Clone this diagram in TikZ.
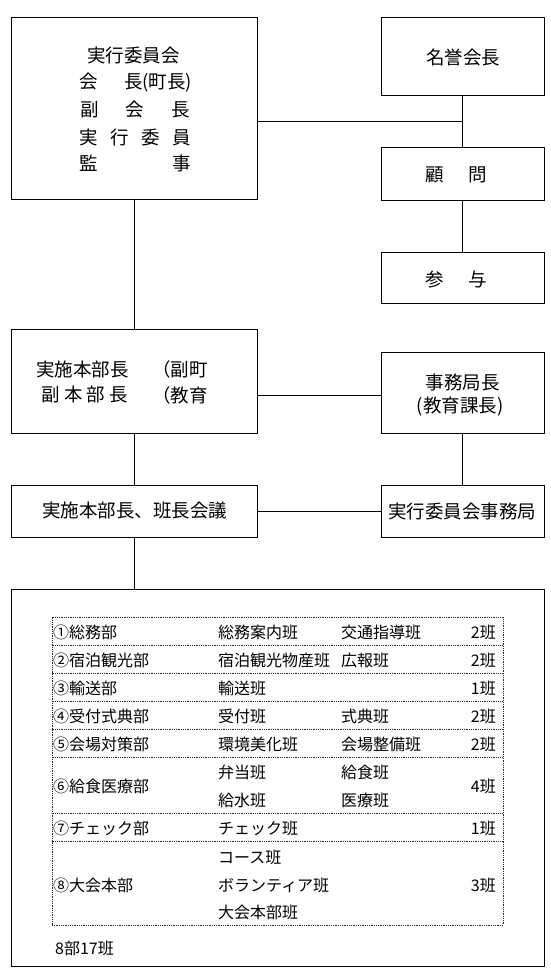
\documentclass[tikz,border=0pt]{standalone}
\usepackage{fontspec}
\setmainfont{Noto Sans CJK JP}
\newcommand\mybigfont{\fontsize{18.5pt}{22pt}\selectfont}
\newcommand\mysmallfont{\fontsize{16pt}{19pt}\selectfont}
\begin{document}
\begin{tikzpicture}[x=1pt,y=-1pt,
  box/.style={draw, line width=0.9pt, inner sep=0pt},
  conn/.style={line width=0.9pt},
  txt/.style={inner sep=0pt, font=\mybigfont},
  cell/.style={inner sep=0pt, font=\mysmallfont, anchor=west},
  cnt/.style={inner sep=0pt, font=\mysmallfont, anchor=east},
  tbl/.style={draw=black!85, line width=0.7pt, dash pattern=on 0.9pt off 0.9pt}]
\useasboundingbox (0,0) rectangle (550,975);
% boxes
\node[box, minimum width=246, minimum height=182] (A) at (134,108) {};
\node[box, minimum width=163, minimum height=78] (meiyo) at (462.5,56) {};
\node[box, minimum width=163, minimum height=53] (komon) at (462.5,173.5) {};
\node[box, minimum width=163, minimum height=51] (sanyo) at (462.5,277.5) {};
\node[box, minimum width=246, minimum height=104] (jisshi) at (134,381) {};
\node[box, minimum width=163, minimum height=81] (jimu) at (462.5,392.5) {};
\node[box, minimum width=246, minimum height=52] (kaigi) at (134,511) {};
\node[box, minimum width=163, minimum height=52] (kyoku) at (462.5,511) {};
\node[box, minimum width=533, minimum height=377] (big) at (277.5,777.5) {};
% connectors
\coordinate (j1) at (462.5,121);
\coordinate (j2) at (381,395);
\draw[conn] (A.east |- j1) -- (j1);
\draw[conn] (meiyo) -- (komon);
\draw[conn] (komon) -- (sanyo);
\draw[conn] (A) -- (jisshi);
\draw[conn] (jisshi.east |- j2) -- (j2);
\draw[conn] (jisshi) -- (kaigi);
\draw[conn] (kaigi) -- (kyoku);
\draw[conn] (jimu) -- (kyoku);
\draw[conn] (kaigi.south) -- (kaigi.south |- big.north);
% box texts
\node[txt] (a1) at (133.5,55) {実行委員会};
\node[txt, anchor=west] (a2) at (79,83) {\makebox[113pt]{会\hfill 長(町長)}};
\node[txt, anchor=west] (a3) at (80,110) {\makebox[110pt]{副\hfill 会\hfill 長}};
\node[txt, anchor=west] (a4) at (79,137) {\makebox[112pt]{実\hfill 行\hfill 委\hfill 員}};
\node[txt, anchor=west] (a5) at (79,163) {\makebox[112pt]{監\hfill 事}};
\node[txt] (t1) at (463,57) {名誉会長};
\node[txt] (t2) at (456,175) {顧\hspace{25pt}問};
\node[txt] (t3) at (456,280) {参\hspace{25pt}与};
\node[txt, anchor=west] (b1) at (36,369) {実施本部長};
\node[txt, anchor=west] (b2) at (41,395) {\makebox[87pt]{副\hfill 本\hfill 部\hfill 長}};
\node[txt, anchor=east] (b3) at (208,369) {（副町};
\node[txt, anchor=east] (b4) at (208,395) {（教育};
\node[txt] (c1) at (462.5,382) {事務局長};
\node[txt] (c2) at (460,407) {(教育課長)};
\node[txt] (d1) at (134.5,511) {実施本部長、班長会議};
\node[txt] (d2) at (462,511) {実行委員会事務局};
% table
\node[tbl, inner sep=0pt, minimum width=451, minimum height=308] (tab) at (277.5,771) {};
\foreach \yy in {645,673,701,729,757,813,841}
  \draw[tbl] (tab.west |- 0,\yy) -- (tab.east |- 0,\yy);
\node[cell] (r1a) at (53,632) {①総務部};
\node[cell] (r1b) at (218,632) {総務案内班};
\node[cell] (r1c) at (341,632) {交通指導班};
\node[cnt] (r1d) at (496,632) {2班};
\node[cell] (r2a) at (53,660) {②宿泊観光部};
\node[cell] (r2b) at (218,660) {宿泊観光物産班};
\node[cell] (r2c) at (341,660) {広報班};
\node[cnt] (r2d) at (496,660) {2班};
\node[cell] (r3a) at (53,688) {③輸送部};
\node[cell] (r3b) at (218,688) {輸送班};
\node[cnt] (r3d) at (496,688) {1班};
\node[cell] (r4a) at (53,716) {④受付式典部};
\node[cell] (r4b) at (218,716) {受付班};
\node[cell] (r4c) at (341,716) {式典班};
\node[cnt] (r4d) at (496,716) {2班};
\node[cell] (r5a) at (53,744) {⑤会場対策部};
\node[cell] (r5b) at (218,744) {環境美化班};
\node[cell] (r5c) at (341,744) {会場整備班};
\node[cnt] (r5d) at (496,744) {2班};
\node[cell] (r6a) at (53,786) {⑥給食医療部};
\node[cell] (r6b) at (218,772) {弁当班};
\node[cell] (r6c) at (341,772) {給食班};
\node[cell] (r6e) at (218,800) {給水班};
\node[cell] (r6f) at (341,800) {医療班};
\node[cnt] (r6d) at (496,786) {4班};
\node[cell] (r7a) at (53,828) {⑦チェック部};
\node[cell] (r7b) at (218,828) {チェック班};
\node[cnt] (r7d) at (496,828) {1班};
\node[cell] (r8a) at (53,885) {⑧大会本部};
\node[cell] (r8b) at (218,857) {コース班};
\node[cell] (r8c) at (218,885) {ボランティア班};
\node[cell] (r8e) at (218,912) {大会本部班};
\node[cnt] (r8d) at (496,885) {3班};
\node[cell] (tot) at (55,948) {8部17班};
\end{tikzpicture}
\end{document}
